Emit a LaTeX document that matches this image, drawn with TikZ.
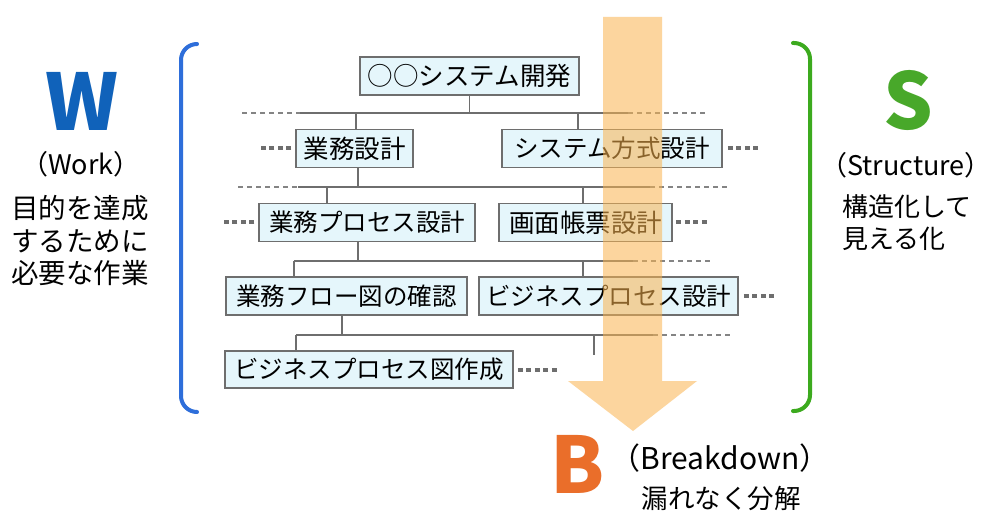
\documentclass[tikz,border=0pt]{standalone}
\usepackage{fontspec}
\setmainfont{Noto Sans CJK JP}
\newfontfamily\jp{Noto Sans CJK JP}
\definecolor{boxfill}{RGB}{229,246,251}
\definecolor{boxline}{RGB}{110,110,110}
\definecolor{wblue}{RGB}{16,98,186}
\definecolor{brblue}{RGB}{46,110,218}
\definecolor{sgreen}{RGB}{72,168,42}
\definecolor{brgreen}{RGB}{60,170,30}
\definecolor{borange}{RGB}{234,110,42}
\definecolor{arrfill}{RGB}{250,180,80}
\tikzset{
  wbox/.style={draw=boxline, fill=boxfill, line width=1.5pt, minimum height=38pt, inner sep=0pt, font=\jp\fontsize{25.5}{28}\selectfont},
  katabox/.style={font=\jp\fontsize{24.5}{28}\selectfont},
  conn/.style={draw=boxline, line width=1.5pt},
  dashln/.style={draw=boxline!85, line width=1.2pt, dash pattern=on 5pt off 4pt},
  dotln/.style={draw=boxline, line width=4pt, dash pattern=on 5pt off 3.5pt},
  bigletter/.style={font=\jp\bfseries\fontsize{78}{80}\selectfont, inner sep=0pt},
  label/.style={font=\jp\fontsize{26}{32}\selectfont, inner sep=0pt, align=center},
  bracket/.style={line width=4pt, rounded corners=16pt, line cap=round}
}
\begin{document}
\begin{tikzpicture}[x=1pt,y=-1pt]
\useasboundingbox[fill=white] (0,0) rectangle (1000,526);

% brackets
\draw[bracket, brblue] (197,44) -| (181,228) |- (197,412);
\draw[bracket, brgreen] (793,43) -| (810,228) |- (793,411);

% boxes
\node[wbox, minimum width=219pt] (root) at (469.5,76) {○○システム開発};
\node[wbox, minimum width=117pt] (b1) at (354.5,148.5) {業務設計};
\node[wbox, katabox, minimum width=220pt] (b2) at (612,148.5) {システム方式設計};
\node[wbox, katabox, minimum width=216pt] (b3) at (367,222.5) {業務プロセス設計};
\node[wbox, minimum width=173pt] (b4) at (585.5,222.5) {画面帳票設計};
\node[wbox, katabox, minimum width=241pt] (b5) at (346.5,296) {業務フロー図の確認};
\node[wbox, katabox, minimum width=259pt] (b6) at (608.5,296) {ビジネスプロセス設計};
\node[wbox, katabox, minimum width=288pt, minimum height=37pt] (b7) at (369,369.5) {ビジネスプロセス図作成};

% bus level 1
\coordinate (h1a) at (242,113);
\coordinate (h1b) at (300,113);
\coordinate (h1c) at (628,113);
\coordinate (h1d) at (705,113);
\coordinate (t11) at (356,113);
\coordinate (t12) at (578,113);
\draw[conn] (root.south) -- (root.south |- h1b);
\draw[conn] (h1b) -- (h1c);
\draw[dashln] (h1a) -- (h1b);
\draw[dashln] (h1c) -- (h1d);
\draw[conn] (t11) -- (t11 |- b1.north);
\draw[conn] (t12) -- (t12 |- b2.north);

% bus level 2
\coordinate (h2a) at (238,187);
\coordinate (h2b) at (298,187);
\coordinate (h2c) at (650,187);
\coordinate (h2d) at (727,187);
\coordinate (p2) at (358,187);
\coordinate (t21) at (327,187);
\coordinate (t22) at (583,187);
\draw[conn] (p2 |- b1.south) -- (p2);
\draw[conn] (h2b) -- (h2c);
\draw[dashln] (h2a) -- (h2b);
\draw[dashln] (h2c) -- (h2d);
\draw[conn] (t21) -- (t21 |- b3.north);
\draw[conn] (t22) -- (t22 |- b4.north);

% bus level 3
\coordinate (h3b) at (294,261);
\coordinate (h3c) at (633,261);
\coordinate (h3d) at (710,261);
\coordinate (p3) at (358,261);
\coordinate (t32) at (583,261);
\draw[conn] (p3 |- b3.south) -- (p3);
\draw[conn] (h3b) -- (h3c);
\draw[dashln] (h3c) -- (h3d);
\draw[conn] (h3b) -- (h3b |- b5.north);
\draw[conn] (t32) -- (t32 |- b6.north);

% bus level 4
\coordinate (h4b) at (296,335);
\coordinate (h4c) at (653,335);
\coordinate (h4d) at (732,335);
\coordinate (p4) at (342,335);
\coordinate (t42) at (594,335);
\coordinate (t42e) at (594,355);
\draw[conn] (p4 |- b5.south) -- (p4);
\draw[conn] (h4b) -- (h4c);
\draw[dashln] (h4c) -- (h4d);
\draw[conn] (h4b) -- (h4b |- b7.north);
\draw[conn] (t42) -- (t42e);

% dotted continuations
\draw[dotln] ([xshift=-4pt]b1.west) -- ++(-30.5,0);
\draw[dotln] ([xshift=5pt]b2.east) -- ++(30.5,0);
\draw[dotln] ([xshift=-4pt]b3.west) -- ++(-30.5,0);
\draw[dotln] ([xshift=3.5pt]b4.east) -- ++(30.5,0);
\draw[dotln] ([xshift=5pt]b6.east) -- ++(30.5,0);
\draw[dotln] ([xshift=4pt]b7.east) -- ++(39,0);

% big arrow
\fill[arrfill, opacity=0.55] (603,17) -- (662,17) -- (662,381) -- (697,381) -- (633,431) -- (568,381) -- (603,381) -- cycle;

% W side
\node[bigletter, text=wblue] (W) at (82,101) {W};
\node[label, font=\jp\fontsize{27}{32}\selectfont] (work) at (81,164) {（Work）};
\node[label, font=\jp\fontsize{27.5}{32.5}\selectfont] (wdesc) at (80,241) {目的を達成\\するために\\必要な作業};

% S side
\node[bigletter, text=sgreen] (S) at (908,100) {S};
\node[label, font=\jp\fontsize{27}{32}\selectfont] (struct) at (906,165) {（Structure）};
\node[label, align=left, anchor=west] (sdesc) at (842,223) {構造化して\\見える化};

% B
\node[bigletter, text=borange] (B) at (578,464) {B};
\node[label, font=\jp\fontsize{30}{34}\selectfont] (brk) at (720,458) {（Breakdown）};
\node[label, font=\jp\fontsize{26.5}{30}\selectfont] (bdesc) at (721,498) {漏れなく分解};
\end{tikzpicture}
\end{document}
